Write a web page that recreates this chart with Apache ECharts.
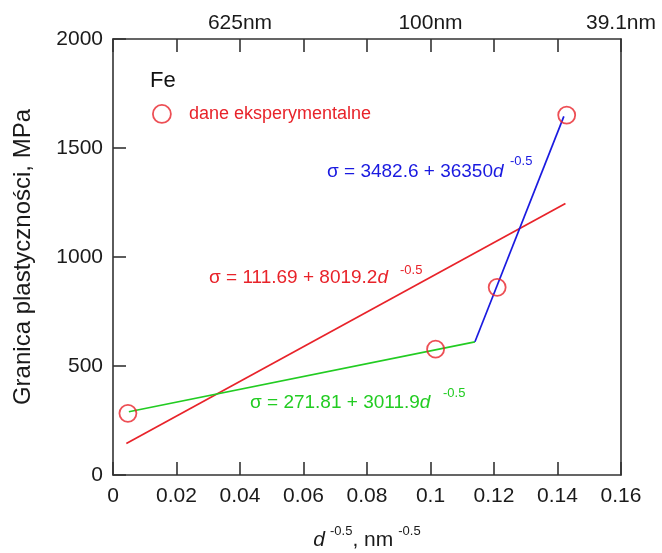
<!DOCTYPE html>
<html>
<head>
<meta charset="utf-8">
<script src="https://cdn.jsdelivr.net/npm/echarts@6/dist/echarts.min.js"></script>
<style>
  html, body { margin: 0; padding: 0; background: #fff; }
  #chart { width: 662px; height: 553px; }
</style>
</head>
<body>
<div id="chart"></div>
<script>
// Measured yield strength of Fe vs. inverse square root of grain size
const measuredX = [0.0047, 0.1016, 0.121, 0.1429];
const measuredY = [283, 577, 861, 1651];

// Fitted line segments (end points)
const redFitX = [0.0042, 0.1425];
const redFitY = [145, 1245];
const greenFitX = [0.005, 0.114];
const greenFitY = [290, 611];
const blueFitX = [0.114, 0.142];
const blueFitY = [611, 1645];

// Top axis: grain size corresponding to d^-0.5
const topTickValues = [0.04, 0.1, 0.16];
const topTickLabels = ['625nm', '100nm', '39.1nm'];

const pairs = (xs, ys) => xs.map((x, i) => [x, ys[i]]);

const FONT = 'Liberation Sans, Arial, sans-serif';
const AXIS_COLOR = '#333';
const TEXT_COLOR = '#1a1a1a';
const RED = '#e8232a';
const GREEN = '#22cc22';
const BLUE = '#1a1ae0';

const chart = echarts.init(document.getElementById('chart'));

const axisLine = { show: true, onZero: false, lineStyle: { color: AXIS_COLOR, width: 1.6 } };
const inTicks = { show: true, inside: true, length: 13, lineStyle: { color: AXIS_COLOR, width: 1.6 } };

// Fit equation: main text plus a raised "-0.5" exponent
function equation(main, color, x, y, supX, supY) {
  return [
    {
      type: 'text', x: x, y: y,
      style: {
        text: '{m|' + main + '}{i|d}',
        verticalAlign: 'middle',
        rich: {
          m: { fontFamily: FONT, fontSize: 19, fill: color },
          i: { fontFamily: FONT, fontSize: 19, fontStyle: 'italic', fill: color }
        }
      }
    },
    {
      type: 'text', x: supX, y: supY,
      style: { text: '-0.5', fontFamily: FONT, fontSize: 13, fill: color, verticalAlign: 'middle' }
    }
  ];
}

chart.setOption({
  animation: false,
  backgroundColor: '#fff',
  grid: { left: 113, right: 41, top: 39, bottom: 78, outerBoundsMode: 'none', containLabel: false },
  xAxis: [
    {
      type: 'value', min: 0, max: 0.16, interval: 0.02, position: 'bottom',
      axisLine: axisLine, axisTick: inTicks,
      splitLine: { show: false },
      axisLabel: {
        color: TEXT_COLOR, fontSize: 21, fontFamily: FONT, margin: 11,
        formatter: v => String(+v.toFixed(2))
      },
      name: '{i|d}{s|-0.5}{n|, nm}{s|-0.5}',
      nameLocation: 'middle', nameGap: 47,
      nameTextStyle: {
        rich: {
          i: { fontFamily: FONT, fontSize: 21, fontStyle: 'italic', color: TEXT_COLOR, padding: [8, 0, 0, 0] },
          n: { fontFamily: FONT, fontSize: 21, color: TEXT_COLOR, padding: [8, 0, 0, 0] },
          s: { fontFamily: FONT, fontSize: 13, color: TEXT_COLOR, padding: [0, 0, 10, 5] }
        }
      }
    },
    {
      type: 'value', min: 0, max: 0.16, interval: 0.02, position: 'top',
      axisLine: axisLine, axisTick: inTicks,
      splitLine: { show: false },
      axisLabel: {
        color: TEXT_COLOR, fontSize: 21, fontFamily: FONT, margin: 5,
        formatter: v => {
          const idx = topTickValues.findIndex(t => Math.abs(t - v) < 1e-9);
          return idx >= 0 ? topTickLabels[idx] : '';
        }
      }
    }
  ],
  yAxis: [
    {
      type: 'value', min: 0, max: 2000, interval: 500, position: 'left',
      axisLine: axisLine, axisTick: inTicks,
      splitLine: { show: false },
      axisLabel: { color: TEXT_COLOR, fontSize: 21, fontFamily: FONT, margin: 10, formatter: v => String(v) },
      name: 'Granica plastyczności, MPa',
      nameLocation: 'middle', nameGap: 78,
      nameTextStyle: { fontFamily: FONT, fontSize: 24, color: TEXT_COLOR }
    },
    {
      type: 'value', min: 0, max: 2000, interval: 500, position: 'right',
      axisLine: axisLine, axisTick: { show: false },
      axisLabel: { show: false }, splitLine: { show: false }
    }
  ],
  title: {
    text: 'Fe', left: 145, top: 65,
    textStyle: { fontFamily: FONT, fontSize: 22, fontWeight: 'normal', color: '#111' }
  },
  legend: {
    left: 147, top: 99, itemWidth: 18, itemHeight: 18,
    data: [{ name: 'dane eksperymentalne', icon: 'circle' }],
    textStyle: { fontFamily: FONT, fontSize: 18, color: RED, padding: [0, 0, 0, 13] },
    itemStyle: { color: 'transparent', borderColor: RED, borderWidth: 1.8 }
  },
  series: [
    {
      type: 'line', data: pairs(redFitX, redFitY), symbol: 'none',
      lineStyle: { color: RED, width: 1.7 }, z: 2
    },
    {
      type: 'line', data: pairs(greenFitX, greenFitY), symbol: 'none',
      lineStyle: { color: GREEN, width: 1.7 }, z: 2
    },
    {
      type: 'line', data: pairs(blueFitX, blueFitY), symbol: 'none',
      lineStyle: { color: BLUE, width: 1.7 }, z: 2
    },
    {
      name: 'dane eksperymentalne', type: 'scatter',
      data: pairs(measuredX, measuredY),
      symbol: 'circle', symbolSize: 17,
      itemStyle: { color: 'transparent', borderColor: RED, borderWidth: 1.8 }, z: 3
    }
  ],
  graphic: [
    ...equation('σ = 3482.6 + 36350', BLUE, 327, 172, 510, 161),
    ...equation('σ = 111.69 + 8019.2', RED, 209, 278, 400, 270),
    ...equation('σ = 271.81 + 3011.9', GREEN, 250, 403, 443, 393)
  ]
});
</script>
</body>
</html>
